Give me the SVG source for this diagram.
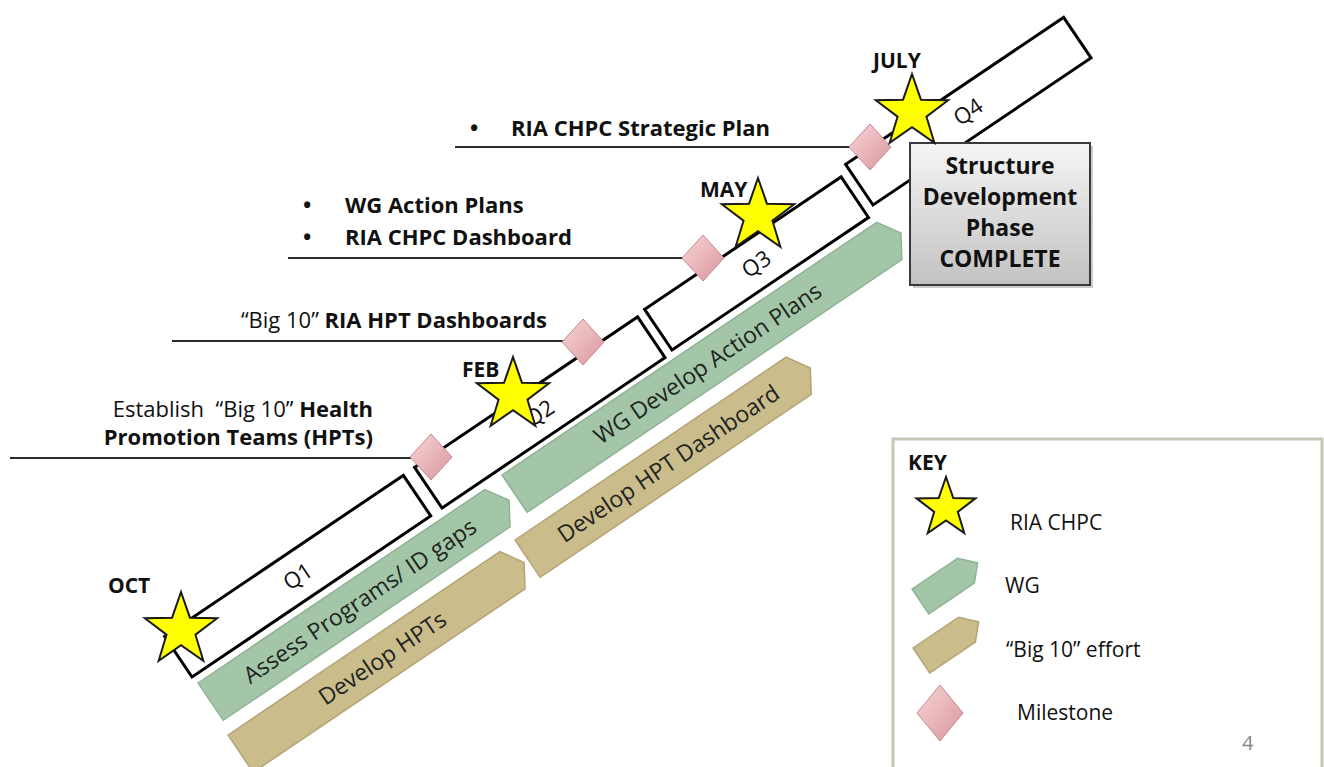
<svg xmlns="http://www.w3.org/2000/svg" width="1324" height="767" viewBox="0 0 1324 767">
<defs>
<style>
text { font-family: "Open Sans", "Liberation Sans", sans-serif; fill: #111; }
.b { font-weight: 700; font-size: 22px; }
.n { font-size: 22px; }
.mo { font-weight: 700; font-size: 21px; }
.qbox { fill: #fff; stroke: #000; stroke-width: 3; }
.q { font-size: 22px; text-anchor: middle; }
.star { fill: #ffff00; stroke: #1a1a1a; stroke-width: 2; }
.ms { fill: url(#msg); stroke: #c4878e; stroke-width: 1; }
.wg { fill: #a4c6a8; stroke: #8fb394; stroke-width: 1.5; }
.big { fill: #cbbc8c; stroke: #b3a374; stroke-width: 1.5; }
.at { font-size: 23px; text-anchor: middle; fill: #1e241e; }
.line { stroke: #2a2a2a; stroke-width: 2; fill: none; }
.sb { font-weight: 700; font-size: 23px; text-anchor: middle; }
.k { font-size: 21px; }
</style>
<linearGradient id="msg" x1="0" y1="0" x2="1" y2="1">
<stop offset="0" stop-color="#f8d6d8"/>
<stop offset="1" stop-color="#d9959c"/>
</linearGradient>
<linearGradient id="boxg" x1="0" y1="0" x2="0" y2="1">
<stop offset="0" stop-color="#f5f5f5"/>
<stop offset="1" stop-color="#c2c2c2"/>
</linearGradient>
<path id="star" d="M0,-38 L8.93,-12.3 L36.14,-11.74 L14.46,4.7 L22.34,30.74 L0,15.2 L-22.34,30.74 L-14.46,4.7 L-36.14,-11.74 L-8.93,-12.3 Z"/>
<path id="starK" d="M0,-31 L7.29,-10.03 L29.48,-9.58 L11.8,3.83 L18.22,25.08 L0,12.4 L-18.22,25.08 L-11.8,3.83 L-29.48,-9.58 L-7.29,-10.03 Z"/>
<path id="dia" d="M0,-23 L21,0 L0,23 L-21,0 Z"/>
</defs>
<rect x="0" y="0" width="1324" height="767" fill="#fff"/>

<!-- effort arrows -->
<g id="wg-assess" transform="translate(198,683) rotate(-34)">
<path class="wg" d="M0,0 H346 L360,22.5 L346,45 H0 Z"/>
<text class="at" x="180" y="30.5">Assess Programs/ ID gaps</text>
</g>
<g id="wg-action" transform="translate(502,475) rotate(-34)">
<path class="wg" d="M0,0 H452 L466,22.5 L452,45 H0 Z"/>
<text class="at" x="233" y="30.5">WG Develop Action Plans</text>
</g>
<g id="big-hpts" transform="translate(228,735) rotate(-34)">
<path class="big" d="M0,0 H328 L342,22.5 L328,45 H0 Z"/>
<text class="at" x="171" y="30.5">Develop HPTs</text>
</g>
<g id="big-dashboard" transform="translate(515,540) rotate(-34)">
<path class="big" d="M0,0 H327 L341,22.5 L327,45 H0 Z"/>
<text class="at" x="170" y="30.5">Develop HPT Dashboard</text>
</g>

<!-- quarter boxes -->
<g id="q1" transform="translate(192,677) rotate(-34)">
<rect class="qbox" x="0" y="-49" width="288" height="49"/>
<text class="q" x="144" y="-16.5">Q1</text>
</g>
<g id="q2" transform="translate(442,508) rotate(-34)">
<rect class="qbox" x="0" y="-49" width="269" height="49"/>
<text class="q" x="134" y="-16.5">Q2</text>
</g>
<g id="q3" transform="translate(672,350) rotate(-34)">
<rect class="qbox" x="0" y="-49" width="237" height="49"/>
<text class="q" x="118" y="-16.5">Q3</text>
</g>
<g id="q4" transform="translate(873,205) rotate(-34)">
<rect class="qbox" x="0" y="-49" width="263" height="49"/>
<text class="q" x="131" y="-16.5">Q4</text>
</g>

<!-- connectors -->
<g id="connectors">
<path class="line" d="M10,458 H425"/>
<path class="line" d="M172,341 H575"/>
<path class="line" d="M288,258 H695"/>
<path class="line" d="M455,147 H862"/>
</g>

<!-- milestone labels -->
<g id="label-establish">
<text class="n" x="373" y="417" text-anchor="end">Establish&#160; “Big 10” <tspan font-weight="700">Health</tspan></text>
<text class="b" x="373" y="445" text-anchor="end">Promotion Teams (HPTs)</text>
</g>
<g id="label-hpt-dash">
<text class="n" x="547" y="328" text-anchor="end">“Big 10” <tspan font-weight="700">RIA HPT Dashboards</tspan></text>
</g>
<g id="label-action">
<text class="b" x="303" y="213">•</text>
<text class="b" x="345" y="213">WG Action Plans</text>
<text class="b" x="303" y="245">•</text>
<text class="b" x="345" y="245">RIA CHPC Dashboard</text>
</g>
<g id="label-strategic">
<text class="b" x="470" y="136">•</text>
<text class="b" x="511" y="136">RIA CHPC Strategic Plan</text>
</g>

<!-- milestones -->
<g id="milestone-1"><use href="#dia" class="ms" x="431" y="457"/></g>
<g id="milestone-2"><use href="#dia" class="ms" x="583" y="342"/></g>
<g id="milestone-3"><use href="#dia" class="ms" x="703" y="258"/></g>
<g id="milestone-4"><use href="#dia" class="ms" x="870" y="147"/></g>

<!-- structure box -->
<g id="structure-complete">
<rect x="913" y="146" width="180" height="142" fill="#9a9a9a" opacity="0.5"/>
<rect x="910" y="143" width="180" height="142" fill="url(#boxg)" stroke="#3a3a3a" stroke-width="2"/>
<text class="sb" x="1000" y="174">Structure</text>
<text class="sb" x="1000" y="205">Development</text>
<text class="sb" x="1000" y="236">Phase</text>
<text class="sb" x="1000" y="267">COMPLETE</text>
</g>

<!-- RIA CHPC stars with months -->
<g id="star-oct"><use href="#star" class="star" x="181" y="630"/><text class="mo" x="108" y="593">OCT</text></g>
<g id="star-feb"><use href="#star" class="star" x="513" y="395"/><text class="mo" x="462" y="377">FEB</text></g>
<g id="star-may"><use href="#star" class="star" x="758" y="216"/><text class="mo" x="700" y="197">MAY</text></g>
<g id="star-july"><use href="#star" class="star" x="912" y="112"/><text class="mo" x="873" y="68">JULY</text></g>

<!-- key -->
<g id="key">
<rect x="893" y="439" width="429" height="340" fill="#fff" stroke="#c6c6b4" stroke-width="3"/>
<text class="mo" x="908" y="470" font-size="20">KEY</text>
<use href="#starK" class="star" x="946" y="508"/>
<text class="k" x="1010" y="530">RIA CHPC</text>
<path class="wg" transform="translate(912,589) rotate(-34)" d="M0,0 H55 L69,15 L55,30 H0 Z"/>
<text class="k" x="1005" y="593">WG</text>
<path class="big" transform="translate(913,648) rotate(-34)" d="M0,0 H55 L69,15 L55,30 H0 Z"/>
<text class="k" x="1006" y="657">“Big 10” effort</text>
<path class="ms" d="M940,685 L963,713 L940,741 L917,713 Z"/>
<text class="k" x="1017" y="720">Milestone</text>
<text x="1242" y="750" font-size="20" fill="#8a8a8a" style="fill:#8a8a8a">4</text>
</g>
</svg>
